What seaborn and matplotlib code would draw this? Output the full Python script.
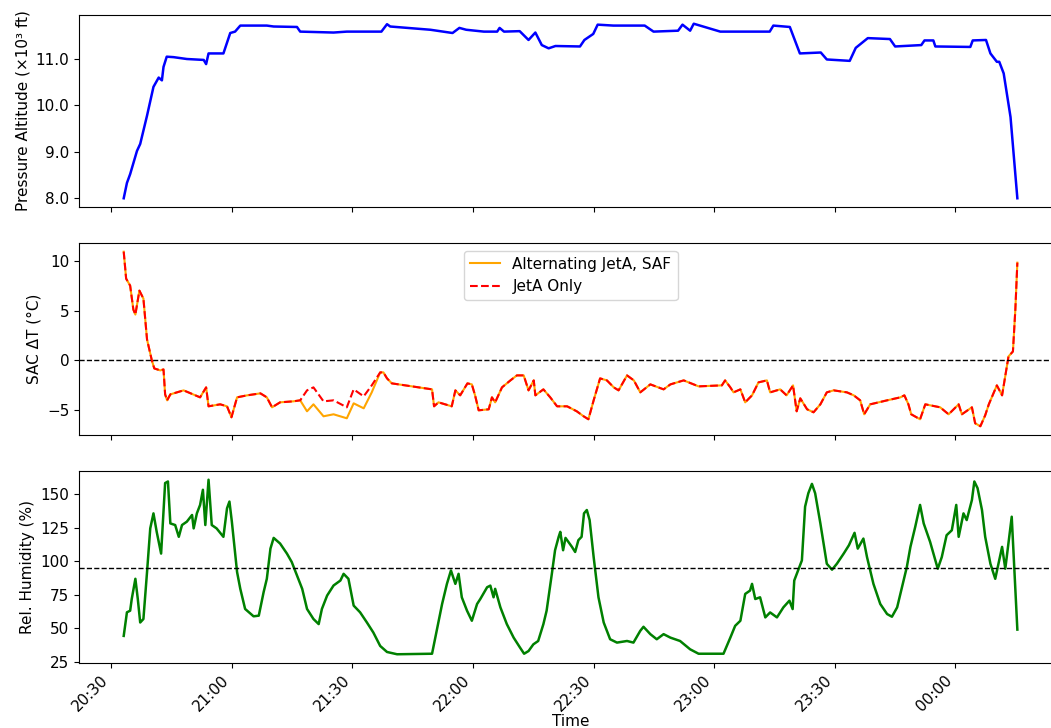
import pandas as pd
import seaborn as sns
import matplotlib.pyplot as plt
import matplotlib.dates as mdates
from matplotlib.ticker import MultipleLocator, FormatStrFormatter

# minutes after 20:30
alt_min = [3.1, 3.9, 4.7, 6.4, 7.2, 8.9, 10.5, 11.8, 12.6, 13.0, 13.8, 15.5, 18.8, 23.0, 23.6,
           24.2, 27.9, 29.6, 30.8, 32.1, 38.7, 40.4, 46.2, 47.0, 55.3, 58.6, 67.2, 68.6, 69.4,
           79.4, 84.9, 86.6, 88.3, 92.7, 96.0, 96.6, 97.7, 101.6, 103.8, 105.5, 107.1, 108.8,
           110.5, 116.6, 117.7, 119.9, 121.0, 124.9, 132.7, 134.9, 141.0, 142.1, 144.0, 144.9,
           151.5, 163.8, 164.7, 168.8, 171.3, 176.5, 178.0, 183.7, 185.2, 188.2, 193.7, 195.0,
           201.5, 202.3, 204.5, 205.0, 213.7, 214.3, 217.6, 218.7, 220.3, 220.9, 222.0, 223.7, 225.4]
alt_kft = [8.0, 8.33, 8.52, 9.02, 9.17, 9.78, 10.40, 10.60, 10.54, 10.83, 11.05, 11.04, 11.0, 10.98,
           10.89, 11.12, 11.12, 11.56, 11.59, 11.72, 11.72, 11.70, 11.69, 11.59, 11.57, 11.59, 11.59,
           11.75, 11.70, 11.63, 11.56, 11.67, 11.63, 11.59, 11.59, 11.67, 11.59, 11.60, 11.41, 11.57,
           11.30, 11.23, 11.28, 11.27, 11.41, 11.54, 11.74, 11.72, 11.72, 11.59, 11.61, 11.74, 11.61,
           11.76, 11.59, 11.59, 11.72, 11.69, 11.12, 11.14, 10.99, 10.96, 11.24, 11.45, 11.43, 11.27,
           11.30, 11.40, 11.40, 11.27, 11.26, 11.40, 11.41, 11.12, 10.94, 10.94, 10.69, 9.75, 8.0]

sac_min = [3.1, 3.7, 4.7, 5.5, 6.0, 7.0, 8.0, 8.9, 10.1, 10.7, 12.2, 13.0, 13.4, 13.9, 14.7, 18.0,
           22.1, 23.6, 24.2, 27.1, 28.8, 29.9, 31.3, 33.8, 37.1, 38.7, 40.0, 42.0, 45.3, 47.0,
           48.7, 50.3, 52.8, 55.3, 58.6, 60.3, 62.8, 64.8, 66.9, 67.7, 68.6, 69.8, 79.8, 80.3,
           81.4, 84.7, 85.6, 86.8, 88.6, 89.7, 90.5, 91.4, 93.9, 94.7, 95.5, 97.2, 99.3, 100.9,
           102.6, 103.8, 105.1, 105.5, 107.5, 109.2, 110.9, 113.4, 115.8, 117.5, 118.7, 120.0,
           121.6, 123.3, 125.0, 126.2, 128.3, 130.0, 131.6, 134.1, 137.4, 139.1, 142.4, 144.9,
           146.1, 151.9, 152.7, 154.0, 154.8, 156.5, 157.7, 159.4, 161.0, 163.1, 163.9, 166.4,
           168.0, 169.6, 170.5, 171.4, 173.1, 174.7, 176.4, 178.0, 179.7, 183.0, 184.7, 186.3,
           187.3, 188.8, 193.0, 196.3, 197.3, 198.3, 199.0, 201.2, 202.5, 206.2, 208.3, 210.8,
           211.6, 214.1, 214.9, 216.2, 217.4, 218.3, 220.3, 221.6, 223.2, 224.3, 224.9, 225.4]
sac_jeta = [10.9, 8.2, 7.5, 5.1, 4.6, 7.0, 6.2, 2.1, 0.0, -0.8, -1.0, -0.9, -3.4, -4.0, -3.4, -3.0,
            -3.7, -2.7, -4.6, -4.4, -4.6, -5.7, -3.7, -3.5, -3.3, -3.7, -4.7, -4.2, -4.1, -4.0,
            -3.0, -2.7, -4.1, -4.0, -4.7, -2.9, -3.6, -2.5, -1.2, -1.2, -1.8, -2.3, -2.9, -4.6,
            -4.2, -4.6, -3.0, -3.5, -2.3, -2.4, -3.5, -5.0, -4.9, -3.7, -4.2, -2.7, -2.0, -1.5,
            -1.5, -3.0, -2.0, -3.5, -2.9, -3.7, -4.6, -4.6, -5.1, -5.6, -5.9, -4.0,
            -1.8, -2.0, -2.7, -3.0, -1.5, -2.0, -3.2, -2.4, -2.9, -2.4, -2.0, -2.4,
            -2.6, -2.5, -2.0, -2.7, -3.2, -2.9, -4.2, -3.5, -2.2, -2.0, -3.2, -2.9,
            -3.5, -2.5, -5.1, -3.8, -4.9, -5.2, -4.4, -3.2, -3.0, -3.2, -3.5, -4.0,
            -5.4, -4.4, -4.0, -3.7, -3.5, -4.4, -5.4, -5.9, -4.4, -4.7, -5.4, -4.4,
            -5.4, -4.7, -6.3, -6.6, -5.5, -4.4, -2.5, -3.5, 0.4, 0.9, 5.1, 9.8]
sac_alt = [10.9, 8.2, 7.5, 5.1, 4.6, 7.0, 6.2, 2.1, 0.0, -0.8, -1.0, -0.9, -3.4, -4.0, -3.4, -3.0,
           -3.7, -2.7, -4.6, -4.4, -4.6, -5.7, -3.7, -3.5, -3.3, -3.7, -4.7, -4.2, -4.1, -4.0,
           -5.1, -4.4, -5.6, -5.4, -5.8, -4.3, -4.8, -3.2, -1.2, -1.2, -1.8, -2.3, -2.9, -4.6,
           -4.2, -4.6, -3.0, -3.5, -2.3, -2.4, -3.5, -5.0, -4.9, -3.7, -4.2, -2.7, -2.0, -1.5,
           -1.5, -3.0, -2.0, -3.5, -2.9, -3.7, -4.6, -4.6, -5.1, -5.6, -5.9, -4.0,
           -1.8, -2.0, -2.7, -3.0, -1.5, -2.0, -3.2, -2.4, -2.9, -2.4, -2.0, -2.4,
           -2.6, -2.5, -2.0, -2.7, -3.2, -2.9, -4.2, -3.5, -2.2, -2.0, -3.2, -2.9,
           -3.5, -2.5, -5.1, -3.8, -4.9, -5.2, -4.4, -3.2, -3.0, -3.2, -3.5, -4.0,
           -5.4, -4.4, -4.0, -3.7, -3.5, -4.4, -5.4, -5.9, -4.4, -4.7, -5.4, -4.4,
           -5.4, -4.7, -6.3, -6.6, -5.5, -4.4, -2.5, -3.5, 0.4, 0.9, 5.1, 9.8]

rh_min = [3.1, 3.9, 4.7, 5.1, 6.0, 6.6, 7.2, 8.0, 8.9, 9.7, 10.5, 11.3, 12.4, 13.0, 13.4, 14.1,
          14.7, 15.9, 16.8, 17.6, 18.8, 20.1, 20.5, 21.3, 22.1, 22.8, 23.4, 24.2, 25.0, 26.2,
          27.9, 28.8, 29.4, 30.0, 31.3, 32.1, 33.3, 35.4, 36.7, 37.9, 38.7, 39.6, 40.4, 42.0,
          43.7, 44.9, 46.2, 47.5, 48.7, 50.3, 51.6, 52.4, 53.7, 55.3, 57.0, 57.8, 59.0, 60.3,
          61.9, 63.6, 65.2, 66.9, 68.6, 71.1, 79.8, 80.6, 82.3, 83.5, 84.5, 85.6, 86.4, 87.2,
          88.5, 89.7, 91.0, 91.8, 93.5, 94.3, 95.1, 95.5, 96.8, 98.4, 100.1, 101.7, 102.7,
          103.8, 105.0, 106.2, 107.5, 108.3, 109.6, 110.4, 111.3, 111.7, 112.4, 113.0, 114.6,
          115.4, 116.2, 117.0, 117.6, 118.3, 119.0, 120.0, 121.2, 122.5, 124.1, 125.8, 128.3,
          129.9, 131.6, 132.4, 134.1, 135.7, 137.4, 139.1, 141.5, 144.0, 146.1, 152.3, 154.0,
          155.2, 156.5, 157.7, 158.9, 159.4, 160.2, 161.4, 162.7, 163.9, 165.6, 167.2, 168.7,
          169.5, 169.9, 171.0, 171.8, 172.6, 173.4, 174.3, 175.1, 176.4, 178.0, 179.3, 180.5,
          182.2, 183.5, 184.9, 185.7, 187.1, 188.0, 189.6, 191.3, 193.0, 194.2, 195.5, 196.7,
          197.9, 198.8, 200.0, 201.2, 202.1, 203.7, 205.0, 205.6, 206.6, 207.8, 209.1, 210.2,
          210.8, 212.0, 212.8, 214.1, 214.7, 215.5, 216.6, 217.4, 218.7, 219.9, 220.7, 221.6,
          222.4, 224.0, 225.4]
rh_pct = [44.3, 61.9, 63.1, 71.9, 86.9, 71.9, 54.3, 56.9, 91.9, 124.5, 135.7, 122.0, 105.7, 137.0,
          158.3, 159.5, 128.2, 127.0, 118.2, 127.0, 129.5, 134.5, 124.5, 135.7, 142.0, 153.3,
          127.0, 160.8, 127.0, 124.5, 118.2, 139.5, 144.5, 129.5, 91.9, 79.4, 64.4, 58.9, 59.4,
          76.9, 86.9, 109.4, 117.4, 113.2, 105.7, 99.4, 89.4, 79.4, 64.4, 56.9, 53.1, 64.4, 74.4,
          81.9, 85.6, 90.6, 86.9, 66.9, 61.9, 54.3, 46.8, 36.8, 32.3, 30.6, 31.0, 43.0, 68.1,
          83.1, 93.1, 83.1, 90.6, 73.1, 63.1, 55.6, 68.1, 71.8, 80.6, 81.8, 73.1, 79.4, 65.6,
          53.1, 43.0, 35.5, 31.0, 33.0, 38.0, 40.5, 53.1, 63.1, 90.6, 108.2, 118.2, 121.9, 108.2,
          117.4, 110.7, 106.9, 115.7, 118.2, 135.7, 138.2, 130.7, 103.1, 73.1, 54.3, 41.8, 39.3,
          40.5, 39.3, 48.1, 51.1, 45.6, 41.8, 45.6, 43.0, 40.5, 34.3, 31.0, 31.0, 43.0, 51.8,
          55.6, 75.6, 78.1, 83.1, 71.8, 73.1, 58.1, 61.8, 58.1, 65.6, 70.6, 64.3, 85.6, 94.4,
          100.6, 140.7, 150.7, 157.7, 150.7, 128.2, 98.1, 93.7, 98.1, 105.7, 111.9, 121.2, 109.4,
          116.9, 103.1, 83.1, 68.1, 60.6, 58.6, 65.6, 80.6, 95.6, 110.7, 125.7, 142.0, 128.2,
          114.4, 100.6, 94.4, 103.1, 119.4, 123.1, 142.0, 118.2, 135.7, 130.7, 145.7, 159.5,
          154.5, 138.2, 118.2, 98.1, 86.9, 98.1, 110.7, 94.4, 133.2, 49.0]

start = pd.Timestamp('2024-01-01 20:30')
to_time = lambda m: start + pd.to_timedelta(m, unit='min')

alt_df = pd.DataFrame({'Time': to_time(alt_min), 'alt': alt_kft})
sac_df = pd.DataFrame({'Time': to_time(sac_min), 'jeta': sac_jeta, 'alt': sac_alt})
rh_df = pd.DataFrame({'Time': to_time(rh_min), 'rh': rh_pct})

fig, axes = plt.subplots(3, 1, figsize=(10.51, 7.28), dpi=100, sharex=True)
plt.subplots_adjust(left=0.0752, right=1.0105, top=0.9794, bottom=0.0893, hspace=0.1875)

# Pressure altitude
sns.lineplot(data=alt_df, x='Time', y='alt', color='blue', linewidth=1.8, ax=axes[0])
axes[0].set_ylabel('Pressure Altitude (×10³ ft)', fontsize=11)
axes[0].yaxis.set_major_locator(MultipleLocator(1))
axes[0].yaxis.set_major_formatter(FormatStrFormatter('%.1f'))

# SAC delta T
sns.lineplot(data=sac_df, x='Time', y='alt', color='orange', linewidth=1.5,
             label='Alternating JetA, SAF', ax=axes[1])
sns.lineplot(data=sac_df, x='Time', y='jeta', color='red', linewidth=1.5, linestyle='--',
             label='JetA Only', ax=axes[1])
axes[1].axhline(0, color='black', linestyle='--', linewidth=1)
axes[1].set_ylabel('SAC ΔT (°C)', fontsize=11)
axes[1].legend(loc='upper center', fontsize=11)

# Relative humidity
sns.lineplot(data=rh_df, x='Time', y='rh', color='green', linewidth=1.8, ax=axes[2])
axes[2].axhline(95, color='black', linestyle='--', linewidth=1)
axes[2].set_ylabel('Rel. Humidity (%)', fontsize=11)
axes[2].yaxis.set_major_locator(MultipleLocator(25))
axes[2].set_xlabel('Time', fontsize=11, labelpad=0)

for ax in axes:
    ax.tick_params(labelsize=11)
axes[2].xaxis.set_major_locator(mdates.MinuteLocator(byminute=[0, 30]))
axes[2].xaxis.set_major_formatter(mdates.DateFormatter('%H:%M'))
plt.setp(axes[2].get_xticklabels(), rotation=45, ha='right')

plt.savefig('out.png', dpi=100)
